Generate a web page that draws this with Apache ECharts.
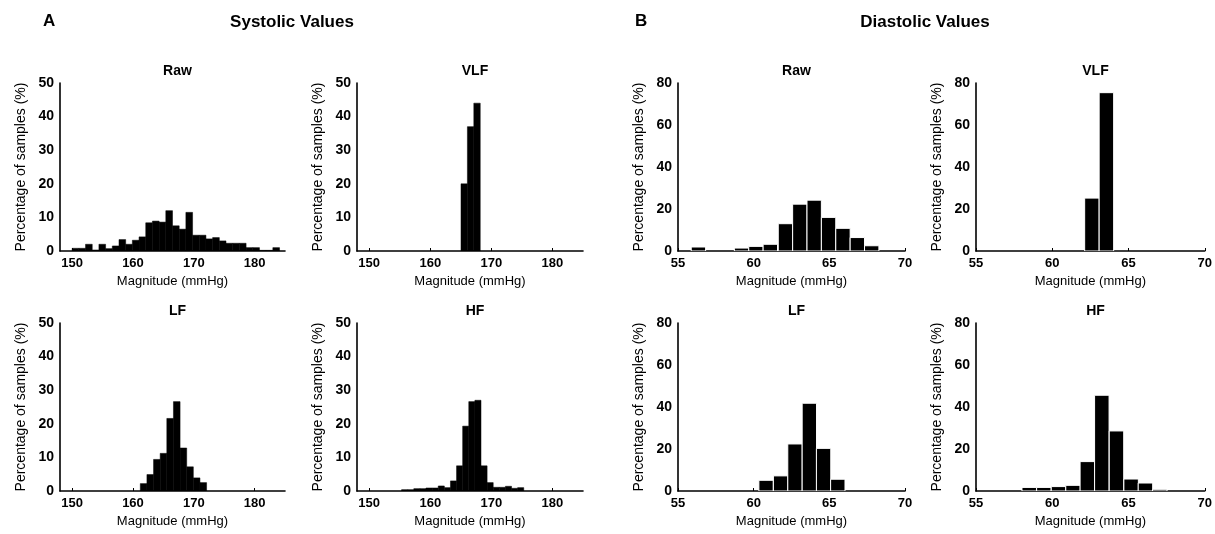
<!DOCTYPE html>
<html>
<head>
<meta charset="utf-8">
<script src="https://cdn.jsdelivr.net/npm/echarts@6/dist/echarts.min.js"></script>
<style>
html,body{margin:0;padding:0;background:#fff;}
#chart{width:1215px;height:534px;}
</style>
</head>
<body>
<div id="chart"></div>
<script>
// ---------- DATA ----------
const sysTicks = [150, 160, 170, 180];
const diaTicks = [55, 60, 65, 70];

// Systolic (bin centers in mmHg, percentage of samples)
const sysRawCenters = [150.55, 151.65, 152.75, 153.85, 154.95, 156.05, 157.15, 158.25, 159.35, 160.45, 161.55, 162.65, 163.75, 164.85, 165.95, 167.05, 168.15, 169.25, 170.35, 171.45, 172.55, 173.65, 174.75, 175.85, 176.95, 178.05, 179.15, 180.25, 181.35, 182.45, 183.55];
const sysRawValues  = [0.8, 0.8, 2.0, 0.3, 2.0, 0.7, 1.5, 3.4, 2.0, 3.2, 4.2, 8.4, 8.9, 8.6, 12.0, 7.5, 6.5, 11.5, 4.7, 4.7, 3.6, 4.0, 3.0, 2.3, 2.3, 2.3, 1.0, 1.0, 0.2, 0.2, 1.0];
const sysRawBin = 1.1;

const sysVlfCenters = [165.55, 166.6, 167.65];
const sysVlfValues  = [20, 37, 44];
const sysVlfBin = 1.05;

const sysLfCenters = [161.75, 162.84, 163.93, 165.02, 166.11, 167.2, 168.29, 169.38, 170.47, 171.56];
const sysLfValues  = [2.2, 4.9, 9.4, 11.2, 21.6, 26.6, 12.8, 7.2, 3.9, 2.5];
const sysLfBin = 1.09;

const sysHfCenters = [155.8, 156.8, 157.8, 158.8, 159.8, 160.8, 161.8, 162.8, 163.8, 164.8, 165.8, 166.8, 167.8, 168.8, 169.8, 170.8, 171.8, 172.8, 173.8, 174.8];
const sysHfValues  = [0.4, 0.4, 0.7, 0.7, 0.9, 0.9, 1.5, 1.0, 3.0, 7.5, 19.3, 26.6, 27.0, 7.5, 2.5, 1.1, 1.1, 1.4, 0.8, 1.0];
const sysHfBin = 1.0;

// Diastolic
const diaRawCenters = [56.35, 59.2, 60.15, 61.1, 62.1, 63.05, 64.0, 64.95, 65.9, 66.85, 67.8];
const diaRawValues  = [1.9, 1.4, 2.2, 3.2, 13, 22.3, 24.2, 16, 10.8, 6.4, 2.5];
const diaRawBin = 0.95;

const diaVlfCenters = [62.6, 63.55];
const diaVlfValues  = [25.2, 75.4];
const diaVlfBin = 0.95;

const diaLfCenters = [60.82, 61.78, 62.73, 63.68, 64.62, 65.56];
const diaLfValues  = [5.1, 7.2, 22.4, 41.8, 20.3, 5.6];
const diaLfBin = 0.95;

const diaHfCenters = [58.49, 59.45, 60.41, 61.36, 62.3, 63.25, 64.21, 65.17, 66.11, 67.05];
const diaHfValues  = [1.7, 1.7, 2.1, 2.7, 14, 45.6, 28.6, 5.7, 3.8, 0.8];
const diaHfBin = 0.95;

// ---------- LAYOUT ----------
const panels = [
  {title:'Raw', c:sysRawCenters, v:sysRawValues, w:sysRawBin, sys:true,  left:60,  top:83,  width:225},
  {title:'VLF', c:sysVlfCenters, v:sysVlfValues, w:sysVlfBin, sys:true,  left:357, top:83,  width:226},
  {title:'LF',  c:sysLfCenters,  v:sysLfValues,  w:sysLfBin,  sys:true,  left:60,  top:323, width:225},
  {title:'HF',  c:sysHfCenters,  v:sysHfValues,  w:sysHfBin,  sys:true,  left:357, top:323, width:226},
  {title:'Raw', c:diaRawCenters, v:diaRawValues, w:diaRawBin, sys:false, left:678, top:83,  width:227},
  {title:'VLF', c:diaVlfCenters, v:diaVlfValues, w:diaVlfBin, sys:false, left:976, top:83,  width:229},
  {title:'LF',  c:diaLfCenters,  v:diaLfValues,  w:diaLfBin,  sys:false, left:678, top:323, width:227},
  {title:'HF',  c:diaHfCenters,  v:diaHfValues,  w:diaHfBin,  sys:false, left:976, top:323, width:229}
];
const PH = 168;
const FONT = '"Liberation Sans", Arial, sans-serif';

const grids = [], xAxes = [], yAxes = [], series = [];
const titles = [
  {text:'A', left:38, top:8, textStyle:{fontFamily:FONT, fontSize:17, fontWeight:'bold', color:'#000'}},
  {text:'Systolic Values', left:287, top:9, textAlign:'center', textStyle:{fontFamily:FONT, fontSize:17, fontWeight:'bold', color:'#000'}},
  {text:'B', left:630, top:8, textStyle:{fontFamily:FONT, fontSize:17, fontWeight:'bold', color:'#000'}},
  {text:'Diastolic Values', left:920, top:9, textAlign:'center', textStyle:{fontFamily:FONT, fontSize:17, fontWeight:'bold', color:'#000'}}
];

function renderBar(fill, stroke, lw) {
  return function (params, api) {
    const x0 = api.value(0), x1 = api.value(1), y = api.value(2);
    const p0 = api.coord([x0, y]);
    const p1 = api.coord([x1, 0]);
    return {
      type: 'rect',
      shape: {x: p0[0], y: p0[1], width: p1[0] - p0[0], height: p1[1] - p0[1]},
      style: {fill: fill, stroke: stroke, lineWidth: lw}
    };
  };
}

panels.forEach((p, i) => {
  grids.push({left:p.left, top:p.top, width:p.width, height:PH, containLabel:false});
  titles.push({text:p.title, left:p.left + p.width/2, top:p.top - 24, textAlign:'center',
    textStyle:{fontFamily:FONT, fontSize:14, fontWeight:'bold', color:'#000'}});
  const ticks = p.sys ? sysTicks : diaTicks;
  xAxes.push({
    type:'value', gridIndex:i,
    min: p.sys ? 148 : 55, max: p.sys ? 185 : 70,
    name:'Magnitude (mmHg)', nameLocation:'middle', nameGap:24,
    nameTextStyle:{fontFamily:FONT, fontSize:13, color:'#000'},
    axisLine:{show:true, onZero:false, lineStyle:{color:'#000', width:1.6}},
    axisTick:{show:true, inside:true, length:3, customValues:ticks, lineStyle:{color:'#000'}},
    axisLabel:{customValues:ticks, margin:6, fontFamily:FONT, fontSize:13, fontWeight:'bold', color:'#000'},
    splitLine:{show:false}
  });
  yAxes.push({
    type:'value', gridIndex:i,
    min:0, max: p.sys ? 50 : 80, interval: p.sys ? 10 : 20,
    name:'Percentage of samples (%)', nameLocation:'middle', nameGap:32,
    nameTextStyle:{fontFamily:FONT, fontSize:14, color:'#000'},
    axisLine:{show:true, lineStyle:{color:'#000', width:1.6}},
    axisTick:{show:false},
    axisLabel:{margin:6, fontFamily:FONT, fontSize:14, fontWeight:'bold', color:'#000'},
    splitLine:{show:false}
  });
  const data = p.c.map((c, k) => [c - p.w/2, c + p.w/2, p.v[k]]);
  series.push({
    type:'custom', xAxisIndex:i, yAxisIndex:i,
    renderItem: p.sys ? renderBar('#000', '#000', 0.5) : renderBar('#000', '#fff', 1),
    encode:{x:[0,1], y:2},
    data:data, clip:true, silent:true, animation:false
  });
});

const chart = echarts.init(document.getElementById('chart'), null, {renderer:'canvas'});
chart.setOption({
  animation:false,
  backgroundColor:'#fff',
  title:titles, grid:grids, xAxis:xAxes, yAxis:yAxes, series:series
});
</script>
</body>
</html>
